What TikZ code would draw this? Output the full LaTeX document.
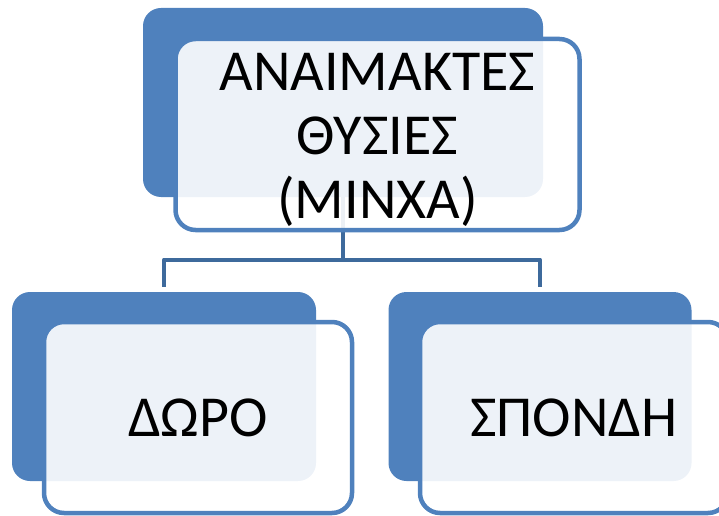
\documentclass[tikz,border=0pt]{standalone}
\usepackage{fontspec}
\setmainfont{Carlito}
\usetikzlibrary{trees}

\definecolor{smartblue}{RGB}{79,129,189}
\definecolor{linkblue}{RGB}{62,106,156}

\tikzset{
	backbox/.style={rectangle, fill=smartblue, rounded corners=18pt,
		minimum height=189pt, inner sep=0pt},
	frontbox/.style={rectangle, draw=smartblue, line width=4.5pt,
		fill=white, fill opacity=0.9, rounded corners=20pt,
		minimum height=191pt, inner sep=0pt},
	boxtext/.style={inner sep=0pt, align=center,
		font=\fontsize{58}{64}\selectfont},
}

\begin{document}
\begin{tikzpicture}[
		level 1/.style={sibling distance=376pt},
		level distance = 284pt,
		edge from parent/.style={draw=linkblue, line width=4.5pt, line join=round},
		edge from parent path={(\tikzparentnode.south)
			|- ([yshift=32pt]\tikzchildnode.north)
			-- ([yshift=5pt]\tikzchildnode.north)} ]
	\useasboundingbox (0,0) rectangle (719pt,515pt);
	\node [backbox, minimum width=400pt] (anaim) at (343pt,412.5pt) {}
	  child[xshift=9pt] { node [backbox, minimum width=304pt] (doro) {} }
	  child[xshift=9pt] { node [backbox, minimum width=303pt] (sponde) {} };
	% front boxes
	\node [frontbox, minimum width=404pt] (anaimfront) at ([shift={(34.5pt,-32pt)}]anaim.center) {};
	\node [frontbox, minimum width=308pt] (dorofront) at ([shift={(34pt,-31pt)}]doro.center) {};
	\node [frontbox, minimum width=308pt] (spondefront) at ([shift={(34pt,-31pt)}]sponde.center) {};
	% texts
	\node [boxtext] (anaimtext) at ([yshift=-5pt]anaimfront.center) {ΑΝΑΙΜΑΚΤΕΣ\\ΘΥΣΙΕΣ\\(ΜΙΝΧΑ)};
	\node [boxtext] (dorotext) at (dorofront.center) {ΔΩΡΟ};
	\node [boxtext] (spondetext) at (spondefront.center) {ΣΠΟΝΔΗ};
\end{tikzpicture}
\end{document}
